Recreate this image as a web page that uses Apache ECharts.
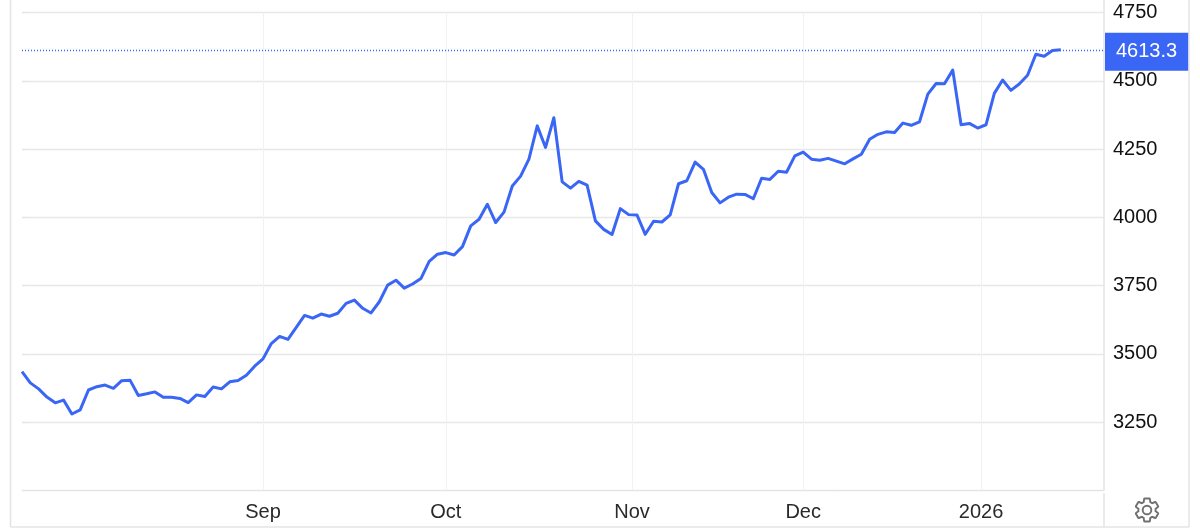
<!DOCTYPE html>
<html>
<head>
<meta charset="utf-8">
<style>html,body{margin:0;padding:0;background:#fff}#c{width:1200px;height:530px}</style>
<script src="https://cdn.jsdelivr.net/npm/echarts@6/dist/echarts.min.js"></script>
</head>
<body>
<div id="c"></div>
<script>
const closes = [3435,3394,3372,3342,3321,3331,3280,3295,3368,3380,3386,3374,3402,3404,3348,3354,3361,3341,3341,3337,3322,3350,3344,3379,3372,3398,3403,3422,3455,3482,3538,3564,3553,3597,
3641,3631,3646,3638,3649,3685,3697,3667,3650,3691,3752,3770,3741,3756,3776,3839,3865,3871,3862,3893,3969,3993,4048,3981,4019,4115,4151,4213,4335,4256,4365,4130,4107,4132,4118,3987,3956,3937,4032,4010,4009,3938,
3986,3983,4009,4123,4134,4202,4176,4091,4053,4074,4085,4084,4068,4143,4139,4169,4165,4225,4239,4213,4209,4216,4206,4196,4214,4231,4286,4304,4313,4311,4345,4337,4350,4451,4490,4489,4539,
4339,4344,4327,4339,4454,4503,4465,4488,4520,4597,4590,4611,4613.3];
const lastValue = 4613.3;
const monthPositions = [29, 51, 73.4, 94, 115.4];
const monthLabels = ['Sep', 'Oct', 'Nov', 'Dec', '2026'];
const yTicks = [3000, 3250, 3500, 3750, 4000, 4250, 4500, 4750];

const FONT = '"Liberation Sans", Arial, sans-serif';
const BLUE = '#3a66f5';
const gear = 'M19.14 12.94c.04-.3.06-.61.06-.94 0-.32-.02-.64-.07-.94l2.03-1.58c.18-.14.23-.41.12-.61l-1.92-3.32c-.12-.22-.37-.29-.59-.22l-2.39.96c-.5-.38-1.03-.7-1.62-.94l-.36-2.54c-.04-.24-.24-.41-.48-.41h-3.84c-.24 0-.43.17-.47.41l-.36 2.54c-.59.24-1.13.57-1.62.94l-2.39-.96c-.22-.08-.47 0-.59.22L2.74 8.87c-.12.21-.08.47.12.61l2.03 1.58c-.05.3-.09.63-.09.94s.02.64.07.94l-2.03 1.58c-.18.14-.23.41-.12.61l1.92 3.32c.12.22.37.29.59.22l2.39-.96c.5.38 1.03.7 1.62.94l.36 2.54c.05.24.24.41.48.41h3.84c.24 0 .44-.17.47-.41l.36-2.54c.59-.24 1.13-.56 1.62-.94l2.39.96c.22.08.47 0 .59-.22l1.92-3.32c.12-.22.07-.47-.12-.61l-2.01-1.58zM12 15.6c-1.98 0-3.6-1.62-3.6-3.6s1.62-3.6 3.6-3.6 3.6 1.62 3.6 3.6-1.62 3.6-3.6 3.6z';
const frameLine = (x1, y1, x2, y2) => ({
  type: 'line', silent: true, z: 1,
  shape: {x1, y1, x2, y2},
  style: {stroke: '#e4e4e4', lineWidth: 1.5}
});

const chart = echarts.init(document.getElementById('c'), null, {renderer: 'canvas'});
chart.setOption({
  animation: false,
  backgroundColor: '#fff',
  grid: {left: 22, right: 96, top: 12.5, bottom: 39.5, containLabel: false},
  xAxis: {
    type: 'value',
    min: 0,
    max: 130.2,
    axisLine: {show: true, onZero: false, lineStyle: {color: '#e4e4e4', width: 1}},
    axisTick: {show: false, customValues: monthPositions},
    axisLabel: {
      customValues: monthPositions,
      formatter: v => monthLabels[monthPositions.indexOf(v)],
      fontFamily: FONT, fontSize: 20, color: '#2a2a2a', margin: 12, hideOverlap: false
    },
    splitLine: {show: true, lineStyle: {color: '#eff3f7', width: 1}}
  },
  yAxis: {
    type: 'value',
    position: 'right',
    min: 3000,
    max: 4750,
    interval: 250,
    axisLine: {show: false},
    axisTick: {show: true, length: 6, lineStyle: {color: '#e4e4e4', width: 1}},
    axisLabel: {
      showMinLabel: false,
      formatter: v => yTicks.includes(v) ? String(v) : '',
      fontFamily: FONT, fontSize: 20, color: '#111', margin: 9,
      padding: [0, 0, 3, 0]
    },
    splitLine: {show: true, lineStyle: {color: '#e8e8e8', width: 1.3}}
  },
  series: [{
    type: 'line',
    data: closes.map((v, i) => [i, v]),
    showSymbol: false,
    smooth: false,
    z: 5,
    lineStyle: {color: BLUE, width: 3, join: 'round'},
    itemStyle: {color: BLUE},
    markLine: {
      silent: true,
      symbol: 'none',
      animation: false,
      lineStyle: {color: BLUE, type: [1, 2], width: 1.4},
      label: {
        show: true,
        position: 'end',
        distance: 1,
        offset: [0, 2],
        formatter: () => lastValue.toFixed(1),
        color: '#fff',
        fontFamily: FONT,
        fontSize: 20,
        backgroundColor: BLUE,
        padding: [9, 11, 9, 11]
      },
      data: [{yAxis: lastValue}]
    }
  }, {
    type: 'custom',
    coordinateSystem: 'none',
    silent: true,
    data: [[0]],
    renderItem: () => ({
      type: 'path',
      shape: {pathData: gear, layout: 'center', x: 1135.5, y: 498.5, width: 23, height: 23},
      style: {fill: 'none', stroke: '#707070', lineWidth: 1.9}
    })
  }],
  graphic: [
    frameLine(10.5, 0, 10.5, 527),
    frameLine(10.5, 527, 1189, 527),
    frameLine(1189, 0, 1189, 527),
    frameLine(1104, 0, 1104, 490),
    frameLine(1104, 493, 1104, 527)
  ]
});
</script>
</body>
</html>
